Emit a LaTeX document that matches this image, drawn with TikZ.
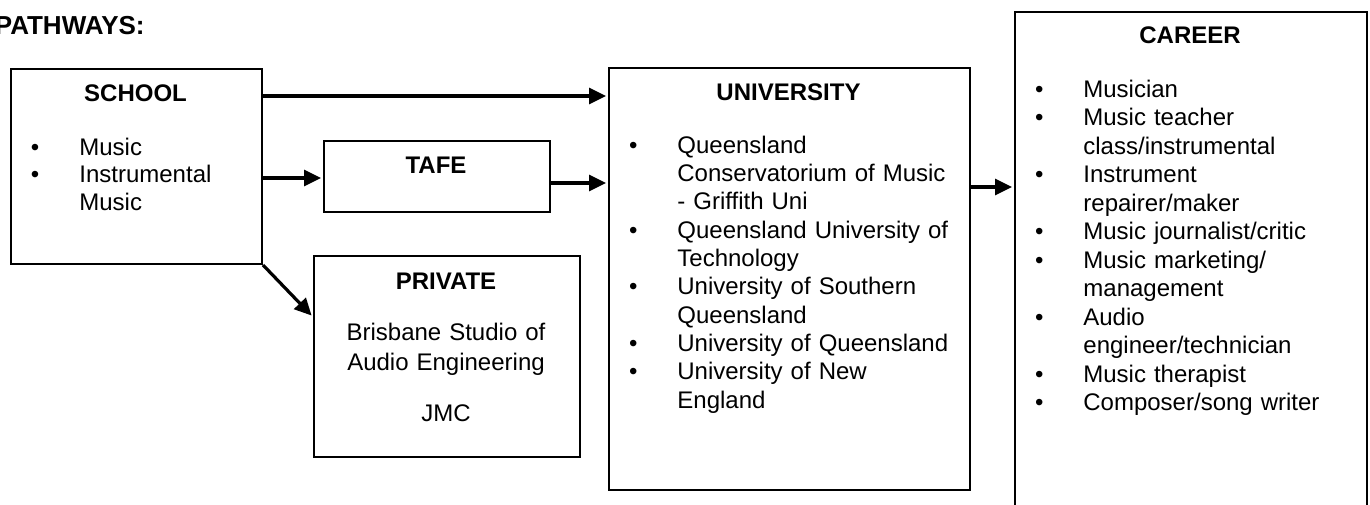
\documentclass[tikz,border=0pt]{standalone}
\usepackage{fontspec}
\setmainfont{Liberation Sans}
\usetikzlibrary{arrows.meta,calc}
\newcommand\bit{\leavevmode\llap{\textbullet\hspace{20pt}}}
\begin{document}
\begin{tikzpicture}[x=0.5pt,y=-0.5pt,
  box/.style={draw,line width=1pt,rectangle,inner sep=0pt,anchor=north west},
  ttl/.style={font=\fontsize{12pt}{14pt}\selectfont\bfseries,anchor=base,inner sep=0pt},
  lst/.style={anchor=base west,inner sep=0pt,align=left,text width=165pt},
  arr/.style={line width=1.6pt,shorten >=1pt,-{Triangle[length=8.5pt,width=8pt]}}]
\useasboundingbox (0,0) rectangle (1370,504);
% boxes
\node[box,minimum width=125.5pt,minimum height=97.5pt] (school) at (10,68) {};
\node[box,minimum width=113pt,minimum height=35.5pt] (tafe) at (323,140) {};
\node[box,minimum width=133pt,minimum height=100.5pt] (private) at (313,255) {};
\node[box,minimum width=180.5pt,minimum height=211pt] (uni) at (608,67) {};
\node[box,minimum width=176pt,minimum height=260pt] (career) at (1014,11) {};
% heading
\node[font=\fontsize{13pt}{15pt}\selectfont\bfseries,anchor=base east,inner sep=0pt] (path) at (145,34) {PATHWAYS:};
% titles
\node[ttl] (schoolT) at (135.5,101) {SCHOOL};
\node[ttl] (tafeT) at (436,173) {TAFE};
\node[ttl] (privT) at (446,289) {PRIVATE};
\node[ttl] (uniT) at (788.5,100) {UNIVERSITY};
\node[ttl] (carT) at (1190,43) {CAREER};
% lists
\node[lst,font=\fontsize{12pt}{13.8pt}\selectfont] (schoolL) at (79,155)
  {\bit Music\\ \bit Instrumental\\ Music};
\node[lst,font=\fontsize{12pt}{14.17pt}\selectfont] (uniL) at (677,153)
  {\bit Queensland\\ Conservatorium of Music\\ - Griffith Uni\\
   \bit Queensland University of\\ Technology\\
   \bit University of Southern\\ Queensland\\
   \bit University of Queensland\\
   \bit University of New\\ England};
\node[lst,font=\fontsize{12pt}{14.27pt}\selectfont] (carL) at (1083,97)
  {\bit Musician\\ \bit Music teacher\\ class/instrumental\\
   \bit Instrument\\ repairer/maker\\
   \bit Music journalist/critic\\
   \bit Music marketing/\\ management\\
   \bit Audio\\ engineer/technician\\
   \bit Music therapist\\
   \bit Composer/song writer};
\node[anchor=base,inner sep=0pt,align=center,text width=140pt,font=\fontsize{12pt}{15pt}\selectfont] (privL) at (446,340)
  {Brisbane Studio of\\ Audio Engineering\\[10.5pt] JMC};
% arrows
\draw[arr] ($(school.north east)+(0,28)$) -- ($(uni.north west)+(0,29)$);
\draw[arr] ($(school.north east)+(-2,110)$) -- ($(tafe.north west)+(0,38)$);
\draw[arr] ($(tafe.north east)+(0,43)$) -- ($(uni.north west)+(0,116)$);
\draw[arr] (school.south east) -- ($(private.north west)+(0,62)$);
\draw[arr] ($(uni.north east)+(0,120)$) -- ($(career.north west)+(0,176)$);
\end{tikzpicture}
\end{document}
